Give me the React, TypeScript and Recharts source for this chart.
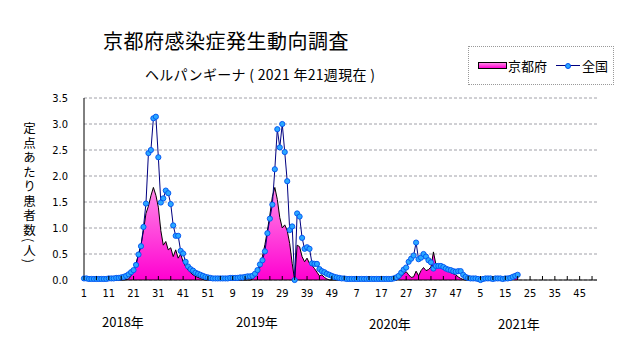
import { Area, CartesianGrid, ComposedChart, Line, XAxis, YAxis } from "recharts";

// week ticks every 10 weeks (labels), marks every 5
const tickLabels = ["1", "11", "21", "31", "41", "51", "9", "19", "29", "39", "49", "7", "17", "27", "37", "47", "5", "15", "25", "35", "45"];
const yearLabels = ["2018年", "2019年", "2020年", "2021年"];
const yTicks = [0, 0.5, 1, 1.5, 2, 2.5, 3, 3.5];

const kyoto2018 = [
  0, 0, 0, 0, 0, 0, 0, 0, 0, 0,
  0, 0, 0, 0, 0, 0, 0, 0.01, 0.02, 0.08,
  0.2, 0.32, 0.5, 0.68, 0.95, 1.28, 1.42, 1.62, 1.78, 1.63,
  1.4, 0.95, 0.67, 0.74, 0.58, 0.62, 0.45, 0.58, 0.42, 0.5,
  0.35, 0.26, 0.19, 0.14, 0.1, 0.07, 0.05, 0.03, 0.01, 0,
  0, 0,
];
const kyoto2019 = [
  0, 0, 0, 0, 0, 0, 0, 0, 0, 0, 0, 0, 0, 0, 0, 0,
  0.02, 0.06, 0.12, 0.25,
  0.45, 0.68, 0.95, 1.25, 1.6, 1.78, 1.55, 1.2, 1.0, 1.06,
  0.95, 0.7, 0.32, 0, 0.67, 0.64, 0.45, 0.35, 0.42, 0.32,
  0.28, 0.22, 0.15, 0.08, 0.1, 0.05, 0.02, 0, 0, 0, 0, 0,
];
const kyoto2020 = [
  0, 0, 0, 0, 0, 0, 0, 0, 0, 0, 0, 0, 0, 0, 0, 0, 0, 0, 0, 0, 0, 0, 0,
  0.02, 0.07, 0.12, 0.16, 0.1, 0.05, 0.06, 0.17, 0.08, 0.18,
  0.24, 0.18, 0.2, 0.25, 0.54, 0.3, 0.28, 0.27, 0.26, 0.22,
  0.17, 0.14, 0.12, 0.1, 0.06, 0.03, 0.01, 0, 0,
];
const kyoto2021 = [0, 0, 0, 0, 0, 0, 0, 0, 0, 0, 0, 0, 0, 0, 0, 0, 0, 0.03, 0.05, 0.06];

const zenkoku2018 = [
  0.03, 0.03, 0.02, 0.02, 0.02, 0.02, 0.02, 0.02, 0.02, 0.02,
  0.03, 0.03, 0.03, 0.04, 0.04, 0.05, 0.06, 0.08, 0.11, 0.15,
  0.19, 0.29, 0.49, 0.65, 1.02, 1.47, 2.44, 2.5, 3.11, 3.14,
  2.36, 1.49, 1.57, 1.72, 1.67, 1.46, 1.05, 0.85, 0.85, 0.56,
  0.51, 0.35, 0.26, 0.21, 0.18, 0.14, 0.12, 0.1, 0.08, 0.06,
  0.05, 0.04,
];
const zenkoku2019 = [
  0.03, 0.03, 0.03, 0.03, 0.03, 0.03, 0.03, 0.04, 0.04, 0.04,
  0.04, 0.05, 0.05, 0.06, 0.07, 0.07,
  0.08, 0.12, 0.19, 0.3,
  0.38, 0.55, 0.9, 1.18, 1.45, 2.13, 2.9, 2.55, 3.0, 2.46,
  1.9, 0.96, 1.03, 0, 1.28, 1.22, 0.81, 0.6, 0.63, 0.6,
  0.32, 0.31, 0.31, 0.21, 0.17, 0.15, 0.12, 0.1, 0.08, 0.06, 0.05, 0.04,
];
const zenkoku2020 = [
  0.03, 0.03, 0.02, 0.02, 0.02, 0.02, 0.02, 0.02, 0.02, 0.02,
  0.02, 0.02, 0.02, 0.02, 0.02, 0.02, 0.02, 0.02, 0.02, 0.02,
  0.02, 0.03, 0.05, 0.08, 0.14, 0.2, 0.24, 0.35, 0.41, 0.47,
  0.72, 0.4, 0.43, 0.5, 0.45, 0.38, 0.34, 0.22, 0.27, 0.27,
  0.27, 0.25, 0.22, 0.2, 0.19, 0.17, 0.16, 0.17, 0.17, 0.1,
  0.06, 0.04,
];
const zenkoku2021 = [0.03, 0.03, 0.03, 0.02, 0.0, 0.02, 0.03, 0.03, 0.03, 0.02, 0.03, 0.03, 0.03, 0.02, 0.03, 0.03, 0.04, 0.06, 0.08, 0.1];

const WEEKS = 208;
const kyoto = [...kyoto2018, ...kyoto2019, ...kyoto2020, ...kyoto2021];
const zenkoku = [...zenkoku2018, ...zenkoku2019, ...zenkoku2020, ...zenkoku2021];
const data = Array.from({ length: WEEKS }, (_, i) => ({ i, kyoto: kyoto[i], zenkoku: zenkoku[i] }));
const xTicks = Array.from({ length: 42 }, (_, k) => k * 5);

const jp = '"Noto Sans CJK JP", sans-serif';
const narrow = '"Liberation Sans Narrow", "DejaVu Sans Condensed", "Liberation Sans", sans-serif';
const TICK_MARGIN = 9;

function WeekTick(props: any) {
  const { x, y, payload } = props;
  const v = payload.value as number;
  const label = v % 10 === 0 ? tickLabels[v / 10] : "";
  const axisY = y - TICK_MARGIN;
  return (
    <g>
      <line x1={x} x2={x} y1={axisY} y2={axisY - 4} stroke="#000" />
      {label && (
        <text x={x} y={y} dy="0.71em" textAnchor="middle" fontSize={11} fontFamily={narrow} fill="#000">
          {label}
        </text>
      )}
    </g>
  );
}

const yearPos = [
  { left: 102, top: 315 },
  { left: 236, top: 315 },
  { left: 369, top: 317 },
  { left: 498, top: 317 },
];

export default function App() {
  return (
    <div style={{ position: "absolute", left: 0, top: 0, width: 631, height: 347, background: "#fff", fontFamily: jp }}>
      <ComposedChart width={631} height={347} data={data} margin={{ top: 98, right: 34, bottom: 37, left: 54 }}>
        <defs>
          <linearGradient id="kyotoFill" x1="0" y1="0" x2="0" y2="1">
            <stop offset="0%" stopColor="#ff8ae8" />
            <stop offset="100%" stopColor="#ff00d0" />
          </linearGradient>
        </defs>
        <CartesianGrid vertical={false} stroke="#a0a0a8" strokeDasharray="3 2" />
        <XAxis
          dataKey="i"
          type="number"
          domain={[0, WEEKS - 1]}
          ticks={xTicks}
          interval={0}
          tickLine={false}
          tickSize={0}
          tickMargin={TICK_MARGIN}
          height={30}
          stroke="#000"
          tick={WeekTick}
        />
        <YAxis
          domain={[0, 3.5]}
          ticks={yTicks}
          interval={0}
          tickLine={false}
          tickSize={0}
          tickMargin={16}
          width={30}
          stroke="#000"
          tick={{ fill: "#000", fontSize: 11, fontFamily: narrow }}
          tickFormatter={(v: number) => v.toFixed(1)}
        />
        <Area
          dataKey="kyoto"
          type="linear"
          stroke="#000"
          strokeWidth={1}
          fill="url(#kyotoFill)"
          fillOpacity={1}
          dot={false}
          activeDot={false}
          isAnimationActive={false}
        />
        <Line
          dataKey="zenkoku"
          type="linear"
          stroke="#000080"
          strokeWidth={1}
          dot={{ r: 2.6, fill: "#2aa8ff", stroke: "#0050f0", strokeWidth: 0.9 }}
          activeDot={false}
          isAnimationActive={false}
        />
      </ComposedChart>

      <div style={{ position: "absolute", left: 103, top: 31, fontSize: 20, lineHeight: "20px", letterSpacing: 0.5, color: "#000", whiteSpace: "nowrap" }}>
        京都府感染症発生動向調査
      </div>
      <div style={{ position: "absolute", left: 145, top: 67, fontSize: 14, lineHeight: "14px", letterSpacing: 0.3, color: "#000", whiteSpace: "nowrap" }}>
        ヘルパンギーナ ( 2021 年21週現在 )
      </div>

      <div
        style={{
          position: "absolute",
          left: 468,
          top: 46,
          width: 144,
          height: 37,
          border: "1px dotted #999",
          background: "#fff",
          fontSize: 13,
          lineHeight: "13px",
          color: "#000",
        }}
      >
        <div style={{ position: "absolute", left: 9, top: 15, width: 27, height: 5, background: "linear-gradient(#ff8ae8, #ff00d0)", border: "1px solid #000" }} />
        <div style={{ position: "absolute", left: 39, top: 12 }}>京都府</div>
        <div style={{ position: "absolute", left: 87, top: 18, width: 24, height: 1, background: "#000080" }} />
        <div style={{ position: "absolute", left: 96, top: 16, width: 4, height: 4, borderRadius: 3, background: "#2aa8ff", border: "0.8px solid #0050f0" }} />
        <div style={{ position: "absolute", left: 113, top: 12 }}>全国</div>
      </div>

      <div
        style={{
          position: "absolute",
          left: 22,
          top: 122,
          writingMode: "vertical-rl",
          fontSize: 12.5,
          lineHeight: "15px",
          letterSpacing: 2,
          color: "#000",
          whiteSpace: "nowrap",
        }}
      >
        定点あたり患者数(人)
      </div>

      {yearLabels.map((t, k) => (
        <div key={t} style={{ position: "absolute", left: yearPos[k].left, top: yearPos[k].top, fontSize: 13, lineHeight: "13px", color: "#000" }}>
          {t}
        </div>
      ))}
    </div>
  );
}
